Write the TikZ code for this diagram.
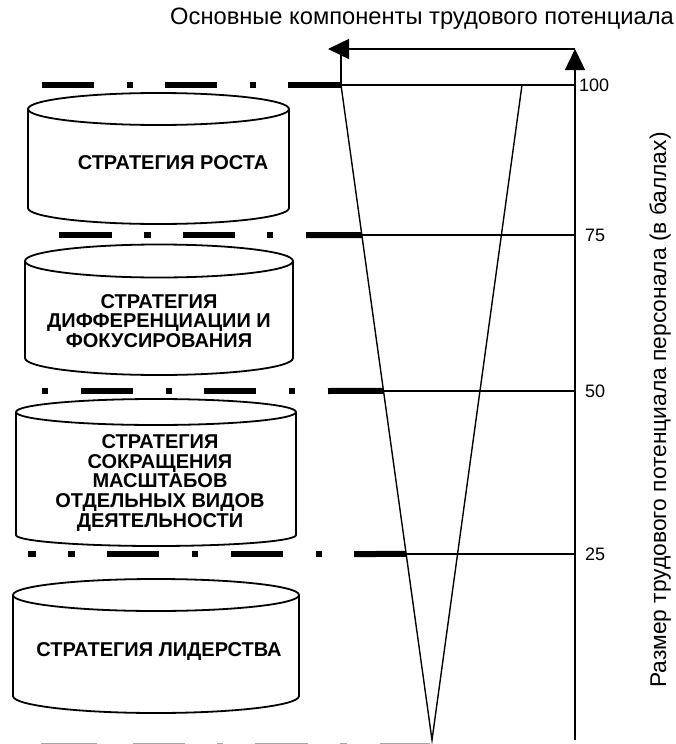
\documentclass[tikz,border=0pt]{standalone}
\usepackage{fontspec}
\setmainfont{Liberation Sans}
\usetikzlibrary{arrows.meta,calc}
\newcommand{\drawcyl}[6]{%
  \draw[cyl] ({(#1+#2)/2},#3) ellipse [x radius={(#2-#1)/2}, y radius=#4];
  \draw[cyl] (#1,#3) -- (#1,#5) arc[start angle=180,end angle=0,x radius={(#2-#1)/2},y radius=#6] -- (#2,#3);
}
\begin{document}
\begin{tikzpicture}[x=1pt,y=-1pt,
  thinln/.style={line width=1.4pt},
  cyl/.style={line width=1.8pt},
  ddash/.style={line width=6pt},
  greydash/.style={line width=7.5pt,color=black!35},
  lbl/.style={font=\fontsize{20}{19.6}\selectfont\bfseries, align=center, inner sep=0pt},
  ttl/.style={font=\fontsize{23.7}{26}\selectfont, inner sep=0pt},
  axl/.style={font=\fontsize{22.8}{26}\selectfont, inner sep=0pt, rotate=90},
  num/.style={font=\fontsize{18}{20}\selectfont, anchor=west, inner sep=0pt},
  tipst/.style={-{Triangle[length=21pt,width=20pt]}}
]
\useasboundingbox (0,0) rectangle (675,744);
% key points
\coordinate (T100L) at (341,85);
\coordinate (T100R) at (522,85);
\coordinate (apex) at (432,740);
\coordinate (axB) at (575,740);
\coordinate (axT) at (575,49);
\coordinate (arrL) at (328,49);
\coordinate (kink) at (341,49);
\coordinate (L75) at ($(T100L)!0.229!(apex)$);
\coordinate (L50) at ($(T100L)!0.467!(apex)$);
\coordinate (L25) at ($(T100L)!0.716!(apex)$);
% axis and arrows
\draw[thinln,tipst] (axB) -- (axT);
\draw[thinln,tipst] (axT) -- (arrL);
\draw[thinln] (T100L) -- (kink);
% triangle
\draw[thinln] (T100L) -- (apex) -- (T100R);
% level lines
\draw[thinln] (T100L) -- (T100L -| axB);
\draw[thinln] (L75) -- (L75 -| axB);
\draw[thinln] (L50) -- (L50 -| axB);
\draw[thinln] (L25) -- (L25 -| axB);
% dash-dot boundaries
\foreach \a/\b in {42/94,127/133,165/217,250/256,288/341} \draw[ddash] (\a,85) -- (\b,85);
\foreach \a/\b in {59/112,144/151,183/235,267/273} \draw[ddash] (\a,235) -- (\b,235);
\draw[ddash] (306,235) -- (L75);
\foreach \a/\b in {42/48,81/133,166/172,204/256,289/295} \draw[ddash] (\a,391) -- (\b,391);
\draw[ddash] (328,391) -- (L50);
\foreach \a/\b in {28/36,68/75,107/159,192/198,231/283,316/322} \draw[ddash] (\a,554) -- (\b,554);
\draw[ddash] (354,554) -- (L25);
\foreach \a/\b in {41/97,133/185,217/223,255/308,340/347,380/430} \draw[greydash] (\a,746.3) -- (\b,746.3);
% cylinders
\drawcyl{28}{289}{109}{16}{208}{16}
\drawcyl{25}{293}{261}{16.5}{358}{17}
\drawcyl{16}{296}{412}{13}{535}{11}
\drawcyl{13}{299}{595}{16}{696}{17}
\node[lbl] (c1) at (173,163) {СТРАТЕГИЯ РОСТА};
\node[lbl] (c2) at (159,321) {СТРАТЕГИЯ\\ДИФФЕРЕНЦИАЦИИ И\\ФОКУСИРОВАНИЯ};
\node[lbl] (c3) at (160,483) {СТРАТЕГИЯ\\СОКРАЩЕНИЯ\\МАСШТАБОВ\\ОТДЕЛЬНЫХ ВИДОВ\\ДЕЯТЕЛЬНОСТИ};
\node[lbl] (c4) at (159,652) {СТРАТЕГИЯ ЛИДЕРСТВА};
% texts
\node[ttl] (title) at (422,19) {Основные компоненты трудового потенциала};
\node[axl] (axlab) at (660,410) {Размер трудового потенциала персонала (в баллах)};
\node[num] (n100) at (579,85) {100};
\node[num] (n75) at (585,235) {75};
\node[num] (n50) at (585,391) {50};
\node[num] (n25) at (585,554) {25};
\end{tikzpicture}
\end{document}
